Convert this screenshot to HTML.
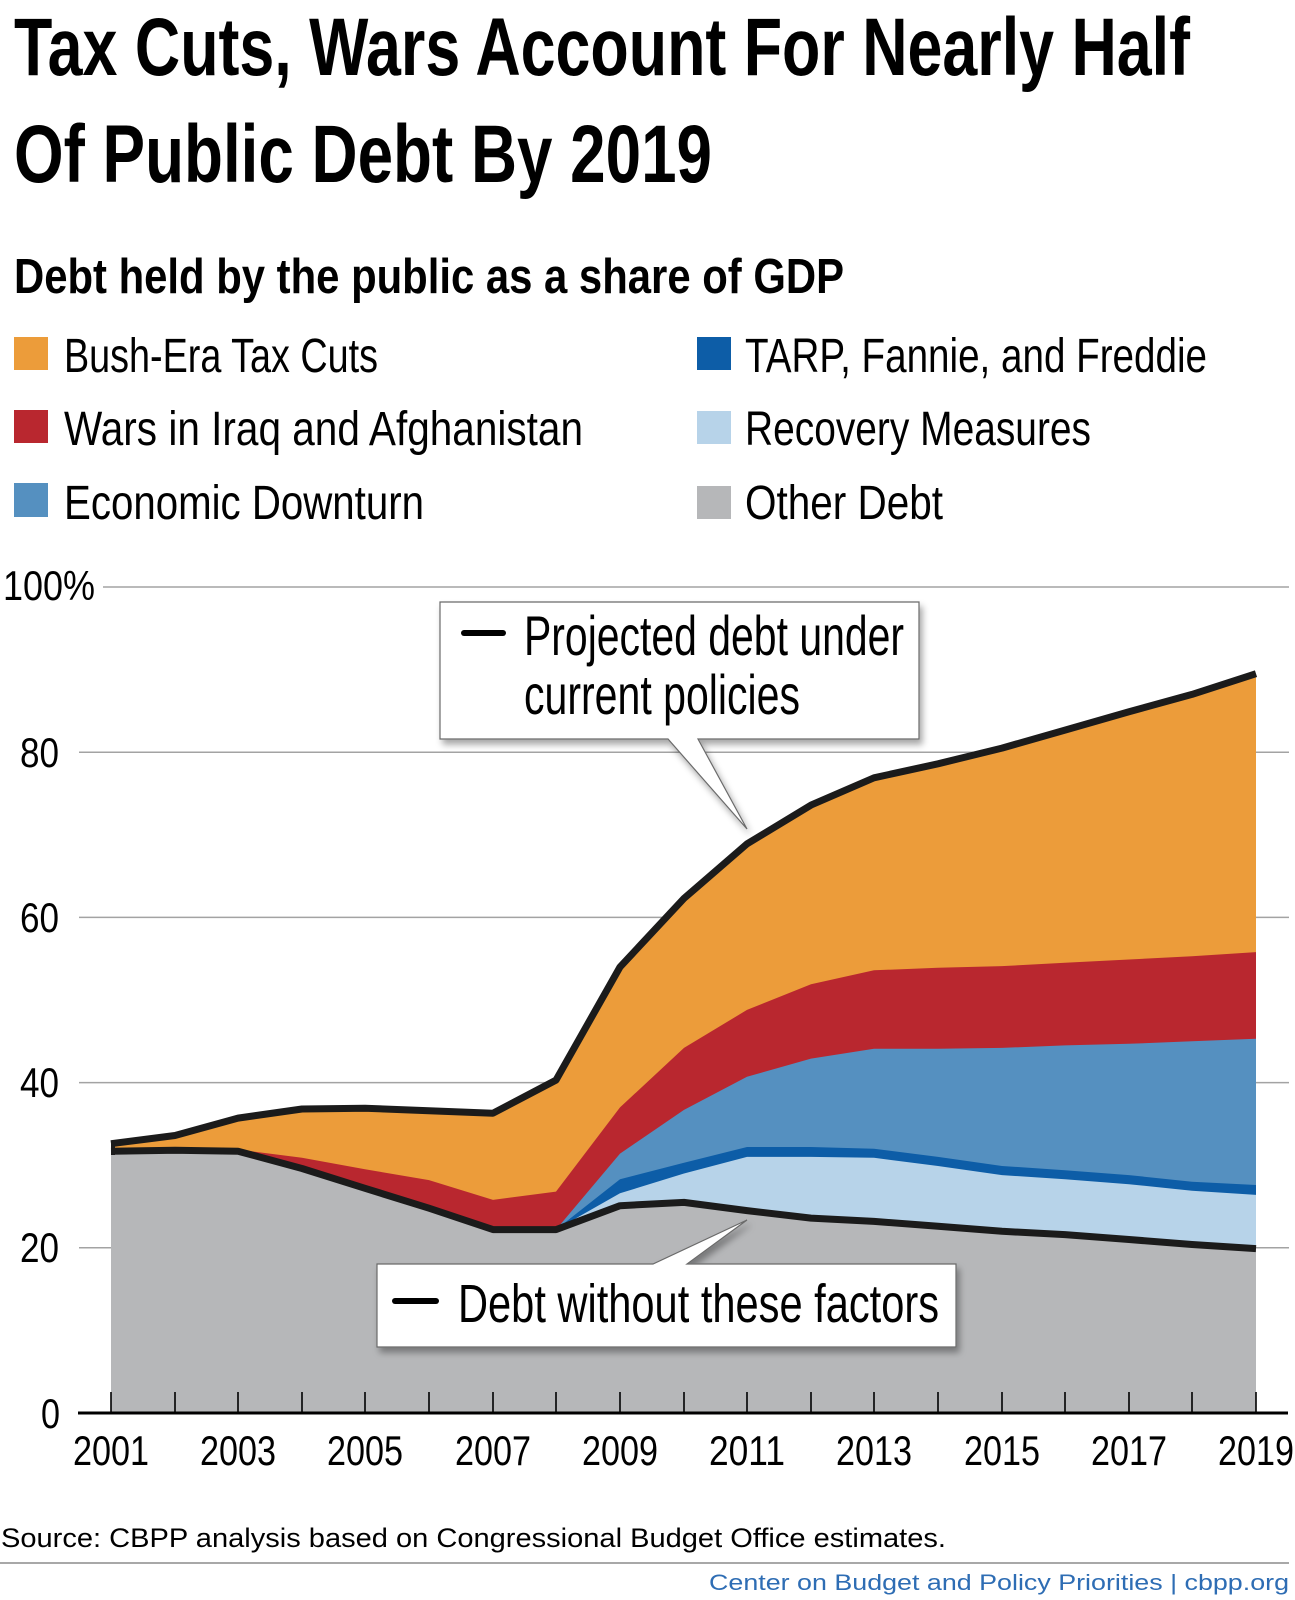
<!DOCTYPE html>
<html>
<head>
<meta charset="utf-8">
<style>
html,body{margin:0;padding:0;background:#fff;}
svg{display:block;}
</style>
</head>
<body>
<svg width="1295" height="1600" viewBox="0 0 1295 1600" xmlns="http://www.w3.org/2000/svg" font-family="'Liberation Sans', sans-serif">
<defs>
<filter id="sh" x="-10%" y="-10%" width="130%" height="140%">
<feDropShadow dx="3" dy="5" stdDeviation="3.5" flood-color="#000" flood-opacity="0.35"/>
</filter>
</defs>
<rect width="1295" height="1600" fill="#fff"/>

<!-- Title -->
<text x="14" y="75" font-size="82" font-weight="bold" fill="#000" textLength="1176" lengthAdjust="spacingAndGlyphs">Tax Cuts, Wars Account For Nearly Half</text>
<text x="14" y="182" font-size="82" font-weight="bold" fill="#000" textLength="698" lengthAdjust="spacingAndGlyphs">Of Public Debt By 2019</text>
<text x="14" y="293" font-size="49" font-weight="bold" fill="#000" textLength="830" lengthAdjust="spacingAndGlyphs">Debt held by the public as a share of GDP</text>

<!-- Legend -->
<rect x="14" y="337" width="34" height="33" fill="#EC9C3A"/>
<text x="64" y="372" font-size="48" fill="#000" textLength="314" lengthAdjust="spacingAndGlyphs">Bush-Era Tax Cuts</text>
<rect x="14" y="410" width="34" height="33" fill="#B9272F"/>
<text x="64" y="445" font-size="48" fill="#000" textLength="519" lengthAdjust="spacingAndGlyphs">Wars in Iraq and Afghanistan</text>
<rect x="14" y="483" width="34" height="34" fill="#5590C0"/>
<text x="64" y="519" font-size="48" fill="#000" textLength="360" lengthAdjust="spacingAndGlyphs">Economic Downturn</text>

<rect x="697" y="337" width="34" height="33" fill="#0D5DA7"/>
<text x="745" y="372" font-size="48" fill="#000" textLength="462" lengthAdjust="spacingAndGlyphs">TARP, Fannie, and Freddie</text>
<rect x="697" y="411" width="34" height="33" fill="#B7D3E9"/>
<text x="745" y="445" font-size="48" fill="#000" textLength="346" lengthAdjust="spacingAndGlyphs">Recovery Measures</text>
<rect x="697" y="486" width="34" height="33" fill="#B6B7B9"/>
<text x="745" y="519" font-size="48" fill="#000" textLength="198" lengthAdjust="spacingAndGlyphs">Other Debt</text>

<!-- Gridlines -->
<g stroke="#A3A3A3" stroke-width="1.5">
<line x1="103" y1="587" x2="1289" y2="587"/>
<line x1="79" y1="752.2" x2="1289" y2="752.2"/>
<line x1="79" y1="917.4" x2="1289" y2="917.4"/>
<line x1="79" y1="1082.6" x2="1289" y2="1082.6"/>
<line x1="79" y1="1247.8" x2="1289" y2="1247.8"/>
</g>

<!-- Y labels -->
<g font-size="42" fill="#000">
<text x="3" y="600" textLength="92" lengthAdjust="spacingAndGlyphs">100%</text>
<text x="20" y="767" textLength="39" lengthAdjust="spacingAndGlyphs">80</text>
<text x="20" y="932" textLength="39" lengthAdjust="spacingAndGlyphs">60</text>
<text x="20" y="1097" textLength="39" lengthAdjust="spacingAndGlyphs">40</text>
<text x="20" y="1262" textLength="39" lengthAdjust="spacingAndGlyphs">20</text>
<text x="41" y="1428" textLength="19" lengthAdjust="spacingAndGlyphs">0</text>
</g>

<!-- Areas -->
<polygon fill="#EC9C3A" points="111,1143.7 175,1135.5 238,1118.1 302,1109.0 365,1108.2 429,1110.7 493,1113.2 556,1080.1 620,967 684,898.4 747,843.9 811,805.1 874,777.8 938,763.8 1002,748.1 1065,730.1 1129,711.7 1192,694.4 1256,673.7 1256,1413 111,1413"/>
<polygon fill="#B9272F" points="111,1151.2 175,1150.3 238,1149.5 302,1157.8 365,1169.3 429,1180.1 493,1199.9 556,1191.6 620,1107.4 684,1047.9 747,1009.9 811,984.3 874,970.3 938,967.8 1002,966.1 1065,962.8 1129,959.5 1192,956.2 1256,952.1 1256,1413 111,1413"/>
<polygon fill="#5590C0" points="111,1151.2 175,1150.3 238,1151.2 302,1168.5 365,1188.3 429,1208.2 493,1229.6 556,1229.6 620,1153.6 684,1109.9 747,1076.8 811,1058.6 874,1048.7 938,1048.7 1002,1047.9 1065,1045.4 1129,1043.8 1192,1041.3 1256,1038.8 1256,1413 111,1413"/>
<polygon fill="#0D5DA7" points="111,1151.2 175,1150.3 238,1151.2 302,1168.5 365,1188.3 429,1208.2 493,1229.6 556,1229.6 620,1179.2 684,1162.7 747,1147.0 811,1147.0 874,1148.7 938,1156.9 1002,1166.0 1065,1170.2 1129,1175.1 1192,1181.7 1256,1185.0 1256,1413 111,1413"/>
<polygon fill="#B7D3E9" points="111,1151.2 175,1150.3 238,1151.2 302,1168.5 365,1188.3 429,1208.2 493,1229.6 556,1229.6 620,1193.3 684,1173.5 747,1156.9 811,1156.9 874,1157.8 938,1166.0 1002,1175.1 1065,1179.2 1129,1184.2 1192,1190.8 1256,1194.9 1256,1413 111,1413"/>
<polygon fill="#B6B7B9" points="111,1151.2 175,1150.3 238,1151.2 302,1168.5 365,1188.3 429,1208.2 493,1229.6 556,1229.6 620,1205.7 684,1202.4 747,1210.6 811,1218.1 874,1221.4 938,1226.3 1002,1231.3 1065,1234.6 1129,1239.5 1192,1244.5 1256,1248.6 1256,1413 111,1413"/>

<!-- Lines -->
<g fill="none" stroke="#1B1B1B" stroke-width="7" stroke-linejoin="round">
<polyline points="111,1143.7 175,1135.5 238,1118.1 302,1109.0 365,1108.2 429,1110.7 493,1113.2 556,1080.1 620,967 684,898.4 747,843.9 811,805.1 874,777.8 938,763.8 1002,748.1 1065,730.1 1129,711.7 1192,694.4 1256,673.7"/>
<polyline points="111,1151.2 175,1150.3 238,1151.2 302,1168.5 365,1188.3 429,1208.2 493,1229.6 556,1229.6 620,1205.7 684,1202.4 747,1210.6 811,1218.1 874,1221.4 938,1226.3 1002,1231.3 1065,1234.6 1129,1239.5 1192,1244.5 1256,1248.6"/>
</g>
<rect x="111" y="1141" width="4" height="14" fill="#1B1B1B"/>

<!-- Axis & ticks -->
<line x1="78" y1="1413" x2="1288" y2="1413" stroke="#000" stroke-width="3"/>
<g stroke="#000" stroke-width="1.6">
<line x1="111" y1="1392" x2="111" y2="1413"/>
<line x1="175" y1="1392" x2="175" y2="1413"/>
<line x1="238" y1="1392" x2="238" y2="1413"/>
<line x1="302" y1="1392" x2="302" y2="1413"/>
<line x1="365" y1="1392" x2="365" y2="1413"/>
<line x1="429" y1="1392" x2="429" y2="1413"/>
<line x1="493" y1="1392" x2="493" y2="1413"/>
<line x1="556" y1="1392" x2="556" y2="1413"/>
<line x1="620" y1="1392" x2="620" y2="1413"/>
<line x1="684" y1="1392" x2="684" y2="1413"/>
<line x1="747" y1="1392" x2="747" y2="1413"/>
<line x1="811" y1="1392" x2="811" y2="1413"/>
<line x1="874" y1="1392" x2="874" y2="1413"/>
<line x1="938" y1="1392" x2="938" y2="1413"/>
<line x1="1002" y1="1392" x2="1002" y2="1413"/>
<line x1="1065" y1="1392" x2="1065" y2="1413"/>
<line x1="1129" y1="1392" x2="1129" y2="1413"/>
<line x1="1192" y1="1392" x2="1192" y2="1413"/>
<line x1="1256" y1="1392" x2="1256" y2="1413"/>
</g>

<!-- X labels -->
<g font-size="42" fill="#000">
<text x="73" y="1465" textLength="76" lengthAdjust="spacingAndGlyphs">2001</text>
<text x="200" y="1465" textLength="76" lengthAdjust="spacingAndGlyphs">2003</text>
<text x="327" y="1465" textLength="76" lengthAdjust="spacingAndGlyphs">2005</text>
<text x="455" y="1465" textLength="76" lengthAdjust="spacingAndGlyphs">2007</text>
<text x="582" y="1465" textLength="76" lengthAdjust="spacingAndGlyphs">2009</text>
<text x="709" y="1465" textLength="76" lengthAdjust="spacingAndGlyphs">2011</text>
<text x="836" y="1465" textLength="76" lengthAdjust="spacingAndGlyphs">2013</text>
<text x="964" y="1465" textLength="76" lengthAdjust="spacingAndGlyphs">2015</text>
<text x="1091" y="1465" textLength="76" lengthAdjust="spacingAndGlyphs">2017</text>
<text x="1218" y="1465" textLength="76" lengthAdjust="spacingAndGlyphs">2019</text>
</g>

<!-- Callout: projected debt -->
<path d="M440,602 H919 V739 H698 L747,829 L668,739 H440 Z" fill="#fff" stroke="#6A6A6A" stroke-width="1.2" filter="url(#sh)"/>
<line x1="464" y1="633" x2="503" y2="633" stroke="#000" stroke-width="6" stroke-linecap="round"/>
<text x="524" y="655" font-size="56" fill="#000" textLength="380" lengthAdjust="spacingAndGlyphs">Projected debt under</text>
<text x="524" y="714" font-size="56" fill="#000" textLength="276" lengthAdjust="spacingAndGlyphs">current policies</text>

<!-- Callout: debt without -->
<path d="M377,1264 H653 L747,1220 L687,1264 H956 V1347 H377 Z" fill="#fff" stroke="#6A6A6A" stroke-width="1.2" filter="url(#sh)"/>
<line x1="395" y1="1301" x2="436" y2="1301" stroke="#000" stroke-width="6" stroke-linecap="round"/>
<text x="458" y="1322" font-size="54" fill="#000" textLength="481" lengthAdjust="spacingAndGlyphs">Debt without these factors</text>

<!-- Source & footer -->
<text x="1" y="1547" font-size="26.5" fill="#000" textLength="945" lengthAdjust="spacingAndGlyphs">Source:  CBPP analysis based on Congressional Budget Office estimates.</text>
<line x1="0" y1="1563" x2="1289" y2="1563" stroke="#A8A8A8" stroke-width="2"/>
<text x="709" y="1590" font-size="22" fill="#2E6DB4" textLength="580" lengthAdjust="spacingAndGlyphs">Center on Budget and Policy Priorities | cbpp.org</text>
</svg>
</body>
</html>
